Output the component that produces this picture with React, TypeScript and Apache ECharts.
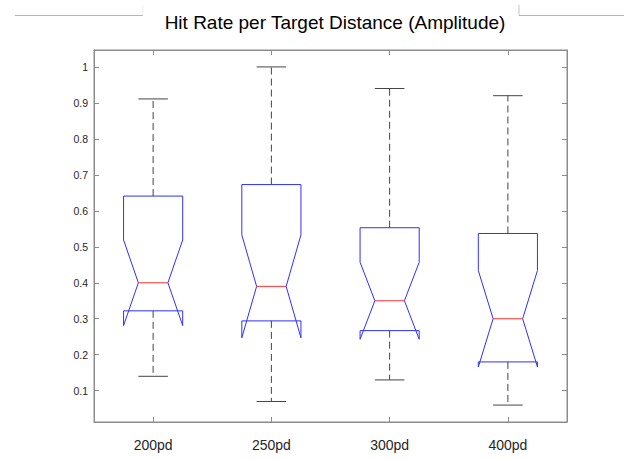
import React, { useEffect, useRef } from "react";
import * as echarts from "echarts";

const categories = ["200pd", "250pd", "300pd", "400pd"];
const whiskerLow = [0.14, 0.07, 0.13, 0.06];
const q1 = [0.322, 0.294, 0.267, 0.18];
const notchLow = [0.281, 0.247, 0.243, 0.166];
const median = [0.4, 0.39, 0.35, 0.3];
const notchHigh = [0.519, 0.533, 0.457, 0.434];
const q3 = [0.641, 0.673, 0.553, 0.537];
const whiskerHigh = [0.911, 1.0, 0.94, 0.92];
const yTicks = [0.1, 0.2, 0.3, 0.4, 0.5, 0.6, 0.7, 0.8, 0.9, 1];
const yMin = 0.013;
const yMax = 1.047;
const titleText = "Hit Rate per Target Distance (Amplitude)";

export default function App() {
  const ref = useRef<HTMLDivElement>(null);
  useEffect(() => {
    if (!ref.current) return;
    const chart = echarts.init(ref.current, undefined, { renderer: "svg" });
    const data = categories.map((_, i) => [
      i,
      whiskerLow[i],
      q1[i],
      notchLow[i],
      median[i],
      notchHigh[i],
      q3[i],
      whiskerHigh[i],
    ]);
    const frame = "#8c8c8c";
    const labelColor = "#262626";
    const font = "'Liberation Sans', Arial, Helvetica, sans-serif";
    chart.setOption({
      animation: false,
      title: {
        text: titleText,
        left: 330,
        textAlign: "center",
        top: 8,
        textStyle: { fontFamily: font, fontSize: 19, fontWeight: "normal", color: "#000" },
      },
      grid: {
        left: 94,
        top: 50,
        width: 473,
        height: 372,
        show: true,
        borderColor: frame,
        borderWidth: 1,
        backgroundColor: "#fff",
      },
      xAxis: [
        {
          type: "category",
          data: categories,
          position: "bottom",
          axisLine: { show: true, lineStyle: { color: frame } },
          axisTick: { show: true, inside: true, alignWithLabel: true, length: 5, lineStyle: { color: frame } },
          axisLabel: { margin: 16, fontSize: 14, color: labelColor, fontFamily: font },
          splitLine: { show: false },
        },
        {
          type: "category",
          data: categories,
          position: "top",
          axisLine: { show: true, lineStyle: { color: frame } },
          axisTick: { show: true, inside: true, alignWithLabel: true, length: 5, lineStyle: { color: frame } },
          axisLabel: { show: false },
          splitLine: { show: false },
        },
      ],
      yAxis: [
        {
          type: "value",
          min: yMin,
          max: yMax,
          position: "left",
          axisLine: { show: true, lineStyle: { color: frame } },
          axisTick: { show: true, inside: true, length: 5, customValues: yTicks, lineStyle: { color: frame } },
          axisLabel: {
            customValues: yTicks,
            margin: 6,
            fontSize: 10.5,
            color: labelColor,
            fontFamily: font,
            formatter: (v: number) => String(Math.round(v * 100) / 100),
          },
          splitLine: { show: false },
        },
        {
          type: "value",
          min: yMin,
          max: yMax,
          position: "right",
          axisLine: { show: true, lineStyle: { color: frame } },
          axisTick: { show: true, inside: true, length: 5, customValues: yTicks, lineStyle: { color: frame } },
          axisLabel: { show: false },
          splitLine: { show: false },
        },
      ],
      graphic: [
        { type: "line", shape: { x1: 15, y1: 15.5, x2: 143, y2: 15.5 }, style: { stroke: "#b4b4b4", lineWidth: 1 } },
        { type: "line", shape: { x1: 143, y1: 5, x2: 143, y2: 15.5 }, style: { stroke: "#eeeeee", lineWidth: 1 } },
        { type: "line", shape: { x1: 519, y1: 5, x2: 519, y2: 15.5 }, style: { stroke: "#c4c4c4", lineWidth: 1 } },
        { type: "line", shape: { x1: 519, y1: 15.5, x2: 624, y2: 15.5 }, style: { stroke: "#b4b4b4", lineWidth: 1 } },
      ],
      series: [
        {
          type: "custom",
          xAxisIndex: 0,
          yAxisIndex: 0,
          data,
          renderItem: (params: any, api: any) => {
            const i = api.value(0);
            const wl = api.value(1);
            const a = api.value(2);
            const nl = api.value(3);
            const m = api.value(4);
            const nh = api.value(5);
            const b = api.value(6);
            const wh = api.value(7);
            const cx = api.coord([i, 0])[0];
            const band = api.size([1, 0])[0];
            const hw = band * 0.25;
            const iw = hw * 0.5;
            const Y = (v: number) => api.coord([i, v])[1];
            const L = cx - hw;
            const R = cx + hw;
            const boxPts = [
              [L, Y(a)],
              [L, Y(nl)],
              [cx - iw, Y(m)],
              [L, Y(nh)],
              [L, Y(b)],
              [R, Y(b)],
              [R, Y(nh)],
              [cx + iw, Y(m)],
              [R, Y(nl)],
              [R, Y(a)],
              [L, Y(a)],
            ];
            const wStyle = { stroke: "#444444", lineWidth: 1, lineDash: [7, 4] };
            const cStyle = { stroke: "#444444", lineWidth: 1 };
            return {
              type: "group",
              children: [
                { type: "line", shape: { x1: cx, y1: Y(b), x2: cx, y2: Y(wh) }, style: wStyle },
                { type: "line", shape: { x1: cx, y1: Y(a), x2: cx, y2: Y(wl) }, style: wStyle },
                { type: "line", shape: { x1: cx - iw, y1: Y(wh), x2: cx + iw, y2: Y(wh) }, style: cStyle },
                { type: "line", shape: { x1: cx - iw, y1: Y(wl), x2: cx + iw, y2: Y(wl) }, style: cStyle },
                { type: "polyline", shape: { points: boxPts }, style: { stroke: "#3030ff", fill: "none", lineWidth: 1 } },
                { type: "line", shape: { x1: cx - iw, y1: Y(m), x2: cx + iw, y2: Y(m) }, style: { stroke: "#ff3030", lineWidth: 1 } },
              ],
            };
          },
        },
      ],
    });
    return () => chart.dispose();
  }, []);
  return (
    <div
      ref={ref}
      style={{ position: "fixed", left: 0, top: 0, width: 624, height: 459, background: "#fff" }}
    />
  );
}
